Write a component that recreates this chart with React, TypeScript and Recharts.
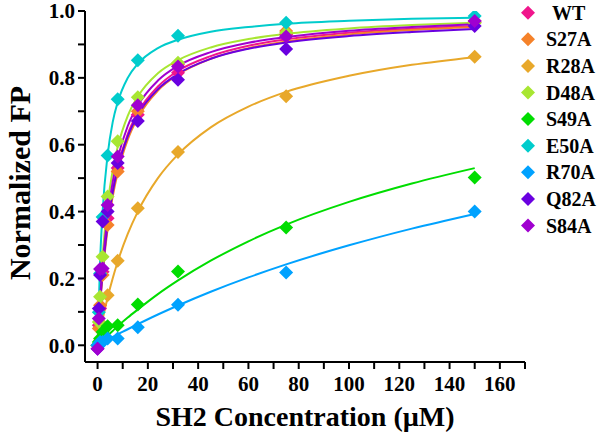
import React from "react";
import {
  ComposedChart,
  Line,
  Scatter,
  XAxis,
  YAxis,
  Label,
} from "recharts";

// measured concentrations (µM)
const conc = [0, 0.5, 1, 2, 4, 8, 16, 32, 75, 150];

// normalized FP
const wtVals = [0.0, 0.06, 0.11, 0.22, 0.38, 0.53, 0.69, 0.815, 0.93, 0.97];
const s27aVals = [0.0, 0.05, 0.12, 0.21, 0.36, 0.52, 0.7, 0.84, 0.94, 0.965];
const r28aVals = [0.0, 0.0, 0.015, 0.06, 0.15, 0.253, 0.41, 0.578, 0.745, 0.863];
const d48aVals = [0.0, 0.07, 0.145, 0.265, 0.445, 0.61, 0.742, 0.845, 0.935, 0.965];
const s49aVals = [0.0, 0.01, 0.02, 0.04, 0.057, 0.06, 0.122, 0.221, 0.352, 0.502];
const e50aVals = [0.0, 0.099, 0.215, 0.384, 0.568, 0.736, 0.853, 0.926, 0.965, 0.985];
const r70aVals = [0.0, 0.0, 0.01, 0.01, 0.02, 0.02, 0.054, 0.121, 0.218, 0.4];
const q82aVals = [-0.01, 0.11, 0.21, 0.37, 0.4, 0.545, 0.671, 0.794, 0.886, 0.955];
const s84aVals = [-0.01, 0.08, 0.228, 0.23, 0.42, 0.565, 0.718, 0.834, 0.924, 0.97];

// fitted curves, read at these x positions
const fitX = [0, 1, 2, 4, 6, 8, 12, 16, 24, 32, 45, 60, 75, 100, 125, 150];
const wtFit = [0, 0.125, 0.222, 0.364, 0.462, 0.533, 0.632, 0.696, 0.774, 0.821, 0.865, 0.896, 0.915, 0.935, 0.947, 0.955];
const s27aFit = [0, 0.118, 0.211, 0.348, 0.444, 0.516, 0.615, 0.681, 0.762, 0.81, 0.857, 0.889, 0.909, 0.93, 0.943, 0.952];
const r28aFit = [0, 0.04, 0.077, 0.143, 0.2, 0.25, 0.333, 0.4, 0.5, 0.571, 0.652, 0.714, 0.758, 0.806, 0.839, 0.862];
const d48aFit = [0, 0.154, 0.267, 0.421, 0.522, 0.593, 0.686, 0.744, 0.814, 0.853, 0.891, 0.916, 0.932, 0.948, 0.958, 0.965];
const s49aFit = [0, 0.0075, 0.015, 0.029, 0.043, 0.057, 0.083, 0.107, 0.153, 0.194, 0.253, 0.311, 0.361, 0.429, 0.484, 0.53];
const e50aFit = [0, 0.25, 0.4, 0.57, 0.667, 0.727, 0.8, 0.842, 0.889, 0.914, 0.938, 0.952, 0.962, 0.971, 0.977, 0.98];
const r70aFit = [0, 0.0042, 0.0083, 0.0165, 0.025, 0.0325, 0.048, 0.063, 0.092, 0.119, 0.16, 0.203, 0.242, 0.299, 0.349, 0.393];
const q82aFit = [0, 0.124, 0.22, 0.36, 0.457, 0.528, 0.625, 0.689, 0.766, 0.812, 0.857, 0.887, 0.906, 0.925, 0.937, 0.946];
const s84aFit = [0, 0.137, 0.241, 0.388, 0.488, 0.559, 0.656, 0.717, 0.792, 0.836, 0.877, 0.905, 0.922, 0.941, 0.952, 0.96];

const series = [
  { name: "WT", color: "#F0168C", vals: wtVals, fit: wtFit },
  { name: "S27A", color: "#F5822A", vals: s27aVals, fit: s27aFit },
  { name: "R28A", color: "#E8A82A", vals: r28aVals, fit: r28aFit },
  { name: "D48A", color: "#A8E632", vals: d48aVals, fit: d48aFit },
  { name: "S49A", color: "#00DD00", vals: s49aVals, fit: s49aFit },
  { name: "E50A", color: "#00CCCC", vals: e50aVals, fit: e50aFit },
  { name: "R70A", color: "#00A2FF", vals: r70aVals, fit: r70aFit },
  { name: "Q82A", color: "#6A00E0", vals: q82aVals, fit: q82aFit },
  { name: "S84A", color: "#A000D0", vals: s84aVals, fit: s84aFit },
];

const xTicks = [0, 10, 20, 30, 40, 50, 60, 70, 80, 90, 100, 110, 120, 130, 140, 150, 160, 170];
const yTicks = [0, 0.1, 0.2, 0.3, 0.4, 0.5, 0.6, 0.7, 0.8, 0.9, 1.0];

const FONT = "'Liberation Serif', 'Times New Roman', serif";
const tickStyle = { fontFamily: FONT, fontWeight: 700, fontSize: 21, fill: "#000" };

const Diamond = ({ cx, cy, fill, r = 7 }: any) => {
  if (cx == null || cy == null) return null;
  return (
    <polygon
      points={`${cx},${cy - r} ${cx + r},${cy} ${cx},${cy + r} ${cx - r},${cy}`}
      fill={fill}
    />
  );
};

export default function App() {
  return (
    <div style={{ position: "absolute", left: 0, top: 0, width: 600, height: 442, background: "#fff" }}>
      <ComposedChart width={600} height={442} margin={{ top: 11, right: 75, bottom: 0, left: 0 }}>
        <XAxis
          dataKey="x"
          type="number"
          domain={[-5, 170]}
          ticks={xTicks}
          interval={0}
          tickFormatter={(v: number) => (v % 20 === 0 ? String(v) : "")}
          height={80}
          tickSize={7}
          tickMargin={7}
          tick={tickStyle}
          stroke="#000"
          strokeWidth={2}
          allowDataOverflow
        >
          <Label
            content={() => (
              <text x={305} y={426} textAnchor="middle" fontFamily={FONT} fontWeight={700} fontSize={28} fill="#000">
                SH2 Concentration (µM)
              </text>
            )}
          />
        </XAxis>
        <YAxis
          dataKey="y"
          type="number"
          domain={[-0.05, 1.0]}
          ticks={yTicks}
          interval={0}
          tickFormatter={(v: number) => (Math.round(v * 10) % 2 === 0 ? v.toFixed(1) : "")}
          width={85}
          tickSize={7}
          tickMargin={3}
          tick={tickStyle}
          stroke="#000"
          strokeWidth={2}
          allowDataOverflow
        >
          <Label
            content={() => (
              <text
                x={19}
                y={183}
                transform="rotate(-90 19 183)"
                textAnchor="middle"
                dominantBaseline="central"
                fontFamily={FONT}
                fontWeight={700}
                fontSize={30}
                fill="#000"
              >
                Normalized FP
              </text>
            )}
          />
        </YAxis>
        {series.map((s) => (
          <Line
            key={s.name + "-fit"}
            data={fitX.map((x, i) => ({ x, y: s.fit[i] }))}
            dataKey="y"
            type="monotone"
            stroke={s.color}
            strokeWidth={2}
            dot={false}
            activeDot={false}
            isAnimationActive={false}
          />
        ))}
        {series.map((s) => (
          <Scatter
            key={s.name}
            name={s.name}
            data={conc.map((x, i) => ({ x, y: s.vals[i] }))}
            dataKey="y"
            fill={s.color}
            shape={(p: any) => <Diamond cx={p.cx} cy={p.cy} fill={s.color} />}
            isAnimationActive={false}
          />
        ))}
      </ComposedChart>
      <svg style={{ position: "absolute", left: 0, top: 0 }} width={600} height={442} pointerEvents="none">
        {series.map((s, i) => {
          const cy = 12.7 + i * 26.6;
          return (
            <g key={s.name}>
              <Diamond cx={528} cy={cy} fill={s.color} />
              <text
                x={s.name === "WT" ? 552 : 546}
                y={cy}
                dominantBaseline="central"
                fontFamily={FONT}
                fontWeight={700}
                fontSize={20}
                fill="#000"
              >
                {s.name}
              </text>
            </g>
          );
        })}
      </svg>
    </div>
  );
}
